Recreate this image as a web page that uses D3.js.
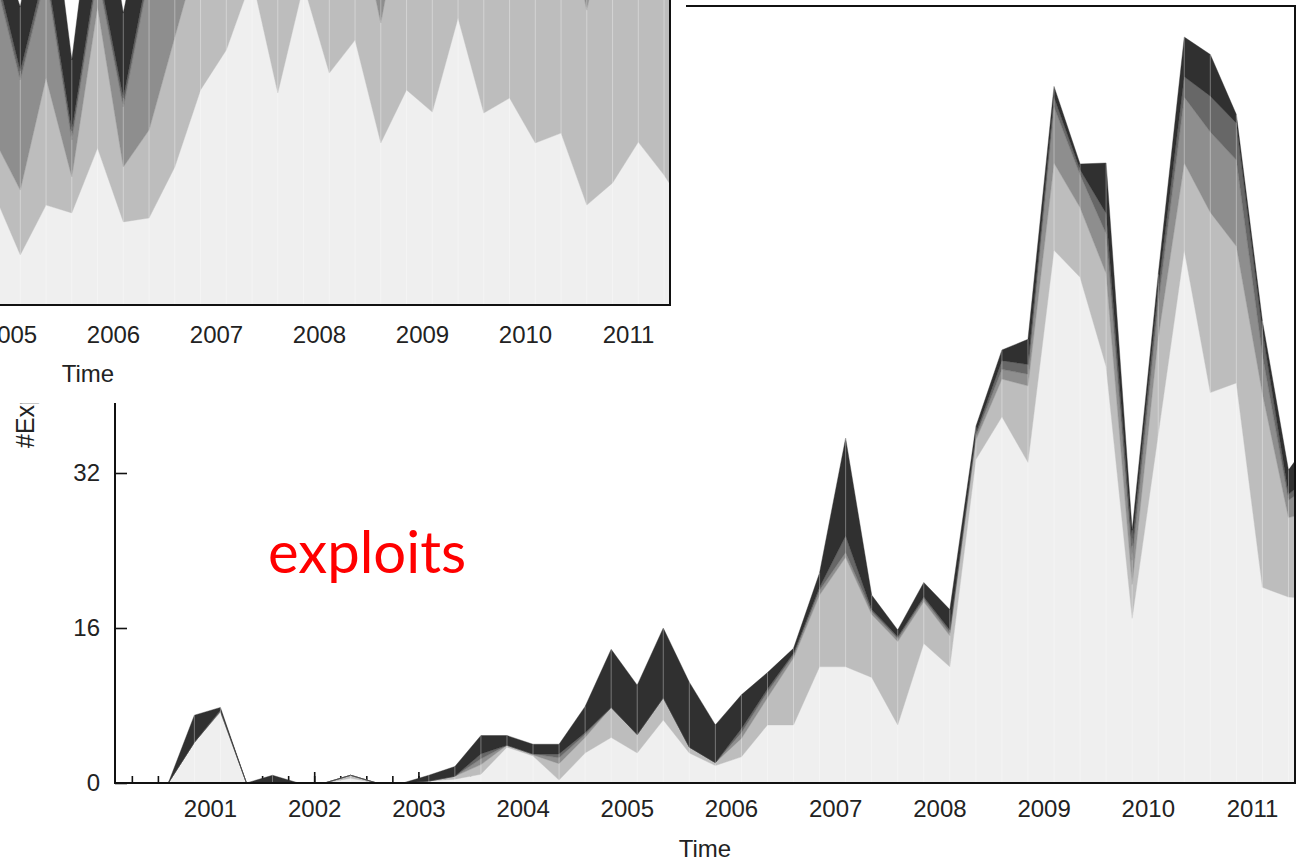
<!DOCTYPE html>
<html>
<head>
<meta charset="utf-8">
<title>Exploits over time</title>
<script src="https://cdnjs.cloudflare.com/ajax/libs/d3/7.8.5/d3.min.js"></script>
<style>
    body
    {
        margin: 0;
        background: #fff;
    }

    svg text
    {
        font-family: "Liberation Sans", Arial, sans-serif;
        fill: #222;
    }

    .tick line
    {
        stroke: #111;
        stroke-width: 1.6;
    }
</style>
</head>
<body>
<svg id="chart" width="1297" height="861"></svg>

<script>
// one sample per quarter (decimal years)
var times = [2000.1, 2000.35, 2000.6, 2000.85, 2001.1, 2001.35, 2001.6, 2001.85,
             2002.1, 2002.35, 2002.6, 2002.85, 2003.1, 2003.35, 2003.6, 2003.85,
             2004.1, 2004.35, 2004.6, 2004.85, 2005.1, 2005.35, 2005.6, 2005.85,
             2006.1, 2006.35, 2006.6, 2006.85, 2007.1, 2007.35, 2007.6, 2007.85,
             2008.1, 2008.35, 2008.6, 2008.85, 2009.1, 2009.35, 2009.6, 2009.85,
             2010.1, 2010.35, 2010.6, 2010.85, 2011.1, 2011.35, 2011.6];

var yearTicks = [2001, 2002, 2003, 2004, 2005, 2006, 2007, 2008, 2009, 2010, 2011];
var insetYearTicks = [2005, 2006, 2007, 2008, 2009, 2010, 2011];
var yTicks = [0, 16, 32];

// main chart: #exploits, stacked (bottom layer first)
var exLight = [0, 0, 0, 4.2, 7.3, 0, 0, 0, 0, 0.5, 0, 0, 0.2, 0.4, 0.9, 3.7, 2.8, 0.3, 3.1, 4.7,
               3.1, 6.5, 3.1, 1.8, 2.7, 6.0, 6.0, 12.0, 12.0, 10.9, 6.0, 14.4, 12.0, 33.4, 37.8,
               33.1, 55.0, 52.2, 43.0, 17.0, 36.0, 55.0, 40.3, 41.3, 20.2, 19.2, 19.0];
var exPale = [0, 0, 0, 0, 0.1, 0, 0, 0, 0, 0.3, 0, 0, 0, 0.3, 1.0, 0.2, 0.1, 1.7, 1.6, 3.1,
              1.9, 2.3, 0.6, 0.3, 1.9, 2.8, 6.9, 7.4, 11.3, 6.5, 8.6, 4.3, 3.2, 2.0, 3.9,
              7.9, 9.0, 7.2, 9.6, 3.5, 10.0, 9.0, 18.6, 14.1, 20.0, 8.2, 9.0];
var exMid = [0, 0, 0, 0, 0, 0, 0, 0, 0, 0, 0, 0, 0, 0, 0.6, 0, 0.1, 0.6, 0.3, 0,
             0, 0, 0, 0, 0.6, 0.6, 0.3, 0.5, 0.5, 0.3, 0.3, 0.3, 0.3, 0.4, 1.0,
             1.2, 5.8, 3.4, 4.1, 2.5, 3.5, 6.8, 8.3, 8.9, 4.0, 1.8, 3.0];
var exDark = [0, 0, 0, 0, 0.1, 0, 0, 0, 0, 0, 0, 0, 0, 0, 0.5, 0, 0, 0.4, 0.2, 0,
              0, 0, 0, 0, 0.4, 0.3, 0.2, 0.3, 1.7, 0.2, 0.2, 0.2, 0.3, 0.3, 0.9,
              1.0, 1.0, 0.5, 2.1, 1.5, 1.5, 2.1, 3.7, 3.8, 2.5, 0.6, 1.0];
var exBlack = [0, 0, 0, 2.8, 0.3, 0, 0.8, 0, 0, 0, 0, 0, 0.6, 1.0, 1.9, 1.0, 1.0, 1.0, 2.7, 6.0,
               5.1, 7.2, 6.7, 3.9, 3.5, 1.7, 0.5, 1.5, 10.1, 1.5, 0.7, 1.5, 2.1, 0.7, 1.1,
               2.6, 1.1, 0.6, 5.2, 1.6, 1.5, 4.1, 4.3, 0.9, 1.0, 2.5, 4.0];

// inset chart (only its lower right part is visible), samples from 2004.85 on
var insetTimes = times.slice(19);
var inLight = [36.7, 16.7, 33.3, 30.7, 52.3, 27.7, 29.0, 46.0, 71.7, 85.0, 109, 70.7, 106.7, 77.3,
               88.3, 54.0, 71.7, 64.3, 95.7, 64.0, 69.0, 54.0, 57.3, 33.3, 40.7, 54.3, 43.3, 30.0];
var inPale = [18.3, 21.6, 42.4, 12, 47, 18.3, 29.3, 43.3, 48.3, 40, 26, 59.3, 28.3, 52.7,
              46.7, 40, 68.3, 70.7, 39.3, 66, 61, 76, 82.7, 65, 99.3, 80.7, 91.7, 100];
var inMid = [55, 36.7, 34.3, 12.3, 10.7, 20, 51.7, 40.7, 20, 15, 15, 15, 15, 15,
             15, 36, 10, 15, 15, 15, 15, 15, 10, 31.7, 10, 15, 15, 15];
var inDark = [3, 3, 3, 3, 3, 3, 3, 3, 3, 3, 3, 3, 3, 3,
              3, 3, 3, 3, 3, 3, 3, 3, 3, 3, 3, 3, 3, 3];
var inBlack = [12, 21.3, 37, 23.7, 37, 28.3, 27, 17, 12, 12, 7, 7, 7, 7,
               7, 17, 7, 7, 7, 7, 7, 7, 7, 17, 7, 7, 7, 7];

var keys = ["light", "pale", "mid", "dark", "black"];
var colors = {light: "#efefef", pale: "#bdbdbd", mid: "#8e8e8e", dark: "#676767", black: "#303030"};

var svg = d3.select("#chart");
svg.append("rect").attr("width", 1297).attr("height", 861).attr("fill", "#fff");

function makeRows(ts, a, b, c, d, e)
{
    return ts.map(function(t, i)
    {
        return {t: t, light: a[i], pale: b[i], mid: c[i], dark: d[i], black: e[i]};
    });
}

function drawStack(g, rows, x, y, clipId)
{
    var series = d3.stack().keys(keys)(rows);

    var area = d3.area()
        .x(function(d) { return x(d.data.t); })
        .y0(function(d) { return y(d[0]); })
        .y1(function(d) { return y(d[1]); });

    var layer = g.append("g").attr("clip-path", "url(#" + clipId + ")");

    layer.selectAll("path")
        .data(series)
        .enter()
        .append("path")
        .attr("d", area)
        .attr("fill", function(d) { return colors[d.key]; })
        .attr("stroke", function(d) { return colors[d.key]; })
        .attr("stroke-width", 0.4);

    // faint seams at every sample
    layer.selectAll("line.seam")
        .data(rows)
        .enter()
        .append("line")
        .attr("class", "seam")
        .attr("x1", function(d) { return x(d.t); })
        .attr("x2", function(d) { return x(d.t); })
        .attr("y1", y(0))
        .attr("y2", function(d) { return y(d.light + d.pale + d.mid + d.dark + d.black); })
        .attr("stroke", "#fff")
        .attr("stroke-opacity", 0.35)
        .attr("stroke-width", 1);
}

var defs = svg.append("defs");

// ---------- main chart ----------
var x = d3.scaleLinear().domain([2001, 2011]).range([210, 1252]);
var y = d3.scaleLinear().domain([0, 16]).range([783, 628]);
var plotLeft = 115, plotRight = 1295, plotTop = 6, plotBottom = 783;

defs.append("clipPath").attr("id", "clipMain")
    .append("rect")
    .attr("x", plotLeft).attr("y", plotTop)
    .attr("width", plotRight - plotLeft).attr("height", plotBottom - plotTop);

var main = svg.append("g");

main.append("text")
    .attr("transform", "translate(34,448) rotate(-90)")
    .attr("text-anchor", "start")
    .style("font-size", "25px")
    .text("#Exploits");

// inward ticks sit under the areas
var quarterTicks = d3.range(2000.25, 2011.4, 0.25);
main.append("g")
    .attr("transform", "translate(0," + plotBottom + ")")
    .call(d3.axisBottom(x).tickValues(quarterTicks).tickSize(-7).tickFormat(""))
    .call(function(g) { g.select(".domain").remove(); });

main.append("g")
    .attr("transform", "translate(0," + plotBottom + ")")
    .call(d3.axisBottom(x).tickValues(yearTicks).tickSize(-11).tickPadding(17).tickFormat(d3.format("d")))
    .call(function(g)
    {
        g.select(".domain").remove();
        g.selectAll("text").style("font-size", "24px").attr("fill", "#222");
    });

drawStack(main, makeRows(times, exLight, exPale, exMid, exDark, exBlack), x, y, "clipMain");

main.append("g")
    .attr("transform", "translate(" + plotLeft + ",0)")
    .call(d3.axisLeft(y).tickValues(yTicks).tickSize(-12).tickPadding(15))
    .call(function(g)
    {
        g.select(".domain").remove();
        g.selectAll("text").style("font-size", "24px").attr("fill", "#222");
    });

main.append("rect")
    .attr("x", plotLeft).attr("y", plotTop)
    .attr("width", plotRight - plotLeft).attr("height", plotBottom - plotTop)
    .attr("fill", "none")
    .attr("stroke", "#111")
    .attr("stroke-width", 2);

main.append("text")
    .attr("x", (plotLeft + plotRight) / 2)
    .attr("y", 857)
    .attr("text-anchor", "middle")
    .style("font-size", "24px")
    .text("Time");

// ---------- inset chart (drawn over the top left) ----------
var xi = d3.scaleLinear().domain([2006, 2011]).range([113, 628]);
var yi = d3.scaleLinear().domain([0, 100]).range([305, 5]);

defs.append("clipPath").attr("id", "clipInset")
    .append("rect")
    .attr("x", 0).attr("y", 0)
    .attr("width", 670).attr("height", 305);

var inset = svg.append("g");

inset.append("rect")
    .attr("x", 0).attr("y", 0)
    .attr("width", 686).attr("height", 403)
    .attr("fill", "#fff");

inset.append("g")
    .attr("transform", "translate(0,305)")
    .call(d3.axisBottom(xi).tickValues(insetYearTicks).tickSize(-11).tickPadding(21).tickFormat(d3.format("d")))
    .call(function(g)
    {
        g.select(".domain").remove();
        g.selectAll("text").style("font-size", "24px").attr("fill", "#222");
    });

drawStack(inset, makeRows(insetTimes, inLight, inPale, inMid, inDark, inBlack), xi, yi, "clipInset");

inset.append("path")
    .attr("d", "M-5,305H670V-5")
    .attr("fill", "none")
    .attr("stroke", "#111")
    .attr("stroke-width", 2);

inset.append("text")
    .attr("x", 88)
    .attr("y", 382)
    .attr("text-anchor", "middle")
    .style("font-size", "24px")
    .text("Time");

// ---------- annotation ----------
svg.append("text")
    .attr("x", 268)
    .attr("y", 573)
    .style("font-family", "Lato, 'Open Sans', sans-serif")
    .style("font-size", "58px")
    .style("fill", "#ff0000")
    .text("exploits");
</script>
</body>
</html>
